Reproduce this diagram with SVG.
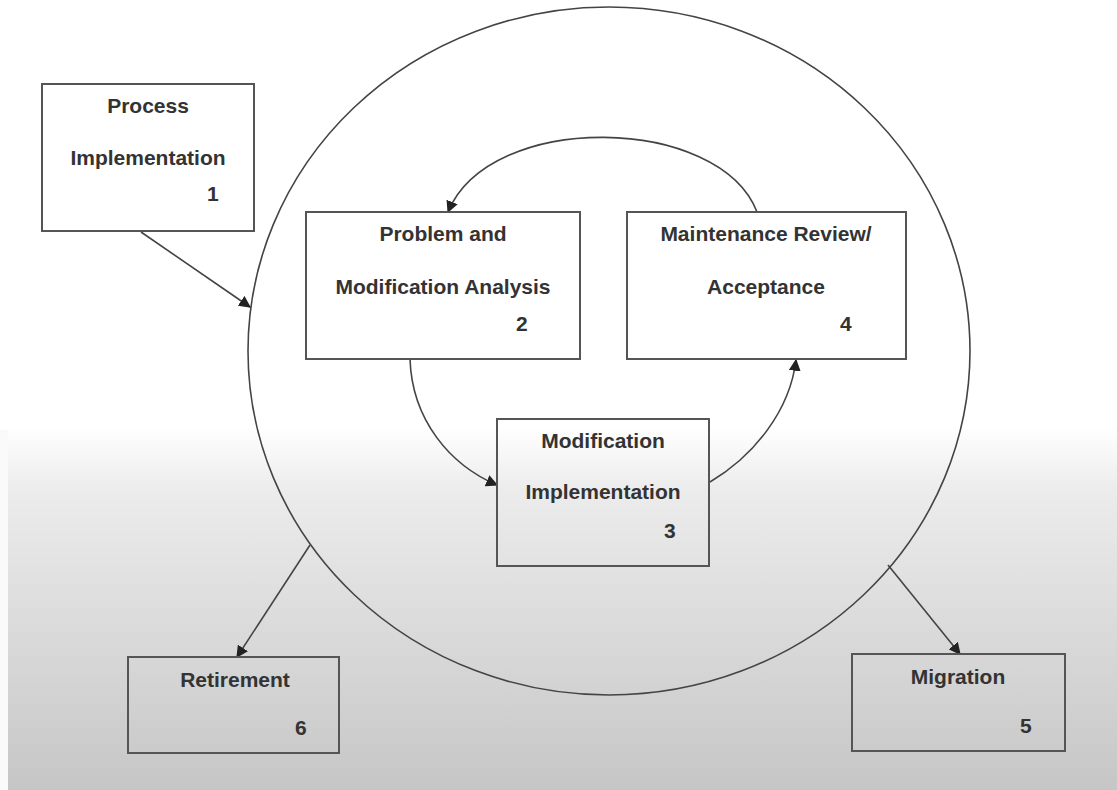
<svg xmlns="http://www.w3.org/2000/svg" width="1117" height="790" viewBox="0 0 1117 790">
<style>
.box{fill:none;stroke:#555;stroke-width:2}
.t{font-family:"Liberation Sans",Arial,sans-serif;font-weight:bold;font-size:21px;fill:#333;text-anchor:middle}
.n{font-family:"Liberation Sans",Arial,sans-serif;font-weight:bold;font-size:21px;fill:#333}
.c{fill:none;stroke:#444;stroke-width:1.6}
</style>
<defs>
<linearGradient id="bg" x1="0" y1="0" x2="0" y2="1">
<stop offset="0" stop-color="#ffffff"/>
<stop offset="0.54" stop-color="#ffffff"/>
<stop offset="0.62" stop-color="#ececec"/>
<stop offset="1" stop-color="#c6c6c6"/>
</linearGradient>
<marker id="ah" viewBox="0 0 10 10" refX="9" refY="5" markerWidth="12" markerHeight="12" markerUnits="userSpaceOnUse" orient="auto">
<path d="M0,0 L10,5 L0,10 z" fill="#222"/>
</marker>
</defs>
<rect x="0" y="0" width="1117" height="790" fill="url(#bg)"/>
<rect x="0" y="430" width="8" height="360" fill="#fafafa"/>
<ellipse cx="609" cy="351" rx="361" ry="344" fill="none" stroke="#444" stroke-width="1.6"/>
<g id="connectors">
<path class="c" d="M141,232 L250,307" marker-end="url(#ah)"/>
<path class="c" d="M757,212 C720,115 490,110 448,212" marker-end="url(#ah)"/>
<path class="c" d="M410,359 C412,420 450,465 497,485" marker-end="url(#ah)"/>
<path class="c" d="M710,482 C755,455 790,410 796,360" marker-end="url(#ah)"/>
<path class="c" d="M310,545 L237,657" marker-end="url(#ah)"/>
<path class="c" d="M888,565 L960,654" marker-end="url(#ah)"/>
</g>
<g id="n1">
<rect class="box" x="42" y="84" width="212" height="147" fill="#fff"/>
<text class="t" x="148" y="113">Process</text>
<text class="t" x="148" y="165">Implementation</text>
<text class="n" x="207" y="201">1</text>
</g>
<g id="n2">
<rect class="box" x="306" y="212" width="274" height="147"/>
<text class="t" x="443" y="241">Problem and</text>
<text class="t" x="443" y="294">Modification Analysis</text>
<text class="n" x="516" y="331">2</text>
</g>
<g id="n4">
<rect class="box" x="627" y="212" width="279" height="147"/>
<text class="t" x="766" y="241">Maintenance Review/</text>
<text class="t" x="766" y="294">Acceptance</text>
<text class="n" x="840" y="331">4</text>
</g>
<g id="n3">
<rect class="box" x="497" y="419" width="212" height="147"/>
<text class="t" x="603" y="448">Modification</text>
<text class="t" x="603" y="499">Implementation</text>
<text class="n" x="664" y="538">3</text>
</g>
<g id="n6">
<rect class="box" x="128" y="657" width="211" height="96"/>
<text class="t" x="235" y="687">Retirement</text>
<text class="n" x="295" y="735">6</text>
</g>
<g id="n5">
<rect class="box" x="852" y="654" width="213" height="97"/>
<text class="t" x="958" y="684">Migration</text>
<text class="n" x="1020" y="733">5</text>
</g>
</svg>
